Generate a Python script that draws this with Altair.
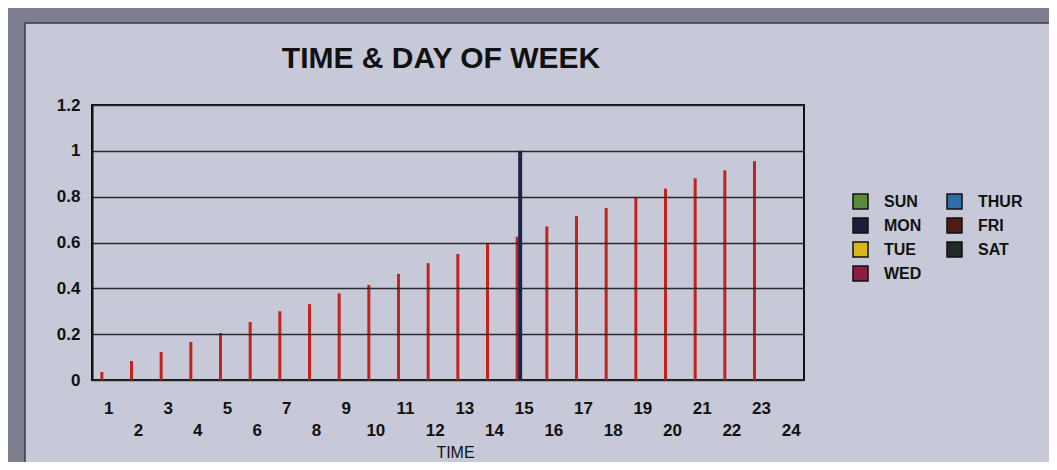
import altair as alt
import pandas as pd

# ---- data ----
hours = [str(h) for h in range(1, 25)]
red_hours = [str(h) for h in range(1, 24)]
red_values = [0.035, 0.083, 0.122, 0.166, 0.205, 0.253, 0.30, 0.331, 0.378, 0.415,
              0.463, 0.51, 0.55, 0.594, 0.625, 0.67, 0.715, 0.75, 0.795, 0.835,
              0.88, 0.915, 0.955]
navy_hours = ["15"]
navy_values = [1.0]
days = ["SUN", "MON", "TUE", "WED", "THUR", "FRI", "SAT"]
day_colors = ["#5c8a3c", "#1b1f3b", "#d8b51c", "#8c1e40", "#2f6ea6", "#4e1c17", "#1f2a25"]
y_ticks = [0, 0.2, 0.4, 0.6, 0.8, 1.0, 1.2]

W, H = 712, 275
PAD = {"left": 84, "top": 97, "right": 245, "bottom": 82}
BG = "#c7c9d8"
FRAME = "#7e7f8f"

red_df = pd.DataFrame({"hour": red_hours, "value": red_values})
navy_df = pd.DataFrame({"hour": navy_hours, "value": navy_values})
legend_df = pd.DataFrame({"day": days})

x_scale = alt.Scale(domain=hours, paddingInner=0, paddingOuter=0)
y_scale = alt.Scale(domain=[0, 1.2], nice=False)

x_axis = alt.Axis(
    title="TIME", titleFont="Liberation Sans", titleFontSize=16, titleFontWeight="normal",
    titleColor="#111", titleX=363, titleY=72, titleBaseline="middle",
    labelExpr="toNumber(datum.value) % 2 == 0 ? ['', datum.label] : datum.label",
    labelFont="Liberation Sans", labelFontSize=17, labelFontWeight="bold", labelColor="#111",
    labelLineHeight=22, labelPadding=20, labelOffset=2, labelAngle=0,
    ticks=False, domain=False, grid=False, zindex=1,
)
y_axis = alt.Axis(
    title=None, values=y_ticks, format=".1~f",
    labelFont="Liberation Sans", labelFontSize=17, labelFontWeight="bold", labelColor="#111",
    labelPadding=12, ticks=False, domain=True, domainColor="#111", domainWidth=2,
    grid=True, gridColor="#2a2a2a", gridWidth=1.6, zindex=1,
)

frame_top = alt.Chart(alt.Data(values=[{}])).mark_rect(fill=FRAME).encode(
    x=alt.value(-84), x2=alt.value(1000), y=alt.value(-97), y2=alt.value(-82)
)
frame_left = alt.Chart(alt.Data(values=[{}])).mark_rect(fill=FRAME).encode(
    x=alt.value(-84), x2=alt.value(-67), y=alt.value(-97), y2=alt.value(400)
)
panel_edge = alt.Chart(alt.Data(values=[{}])).mark_rect(
    fill=None, stroke="#3b3c48", strokeWidth=1.5
).encode(
    x=alt.value(-67), x2=alt.value(1000), y=alt.value(-82), y2=alt.value(400)
)

title = alt.Chart(alt.Data(values=[{"t": "TIME & DAY OF WEEK"}])).mark_text(
    font="Liberation Sans", fontSize=30, fontWeight="bold",
    color="#111", align="center", baseline="middle"
).encode(text="t:N", x=alt.value(349), y=alt.value(-46))

red_bars = alt.Chart(red_df).mark_bar(color="#c4221d", size=3, xOffset=-5).encode(
    x=alt.X("hour:N", scale=x_scale, axis=x_axis, sort=hours),
    y=alt.Y("value:Q", scale=y_scale, axis=y_axis),
)

navy_bars = alt.Chart(navy_df).mark_bar(color="#1b2348", size=4, xOffset=-2).encode(
    x=alt.X("hour:N", scale=x_scale, sort=hours),
    y=alt.Y("value:Q", scale=y_scale),
)

legend_layer = alt.Chart(legend_df).mark_point(
    shape="square", filled=True, opacity=0, size=0
).encode(
    x=alt.value(0), y=alt.value(0),
    color=alt.Color(
        "day:N",
        scale=alt.Scale(domain=days, range=day_colors),
        legend=alt.Legend(
            title=None, orient="none", legendX=760, legendY=88, columns=2,
            columnPadding=22, rowPadding=3, padding=0,
            symbolType="square", symbolSize=225, symbolOpacity=1,
            symbolStrokeColor="#111", symbolStrokeWidth=1.5,
            labelFont="Liberation Sans", labelFontSize=16, labelFontWeight="bold",
            labelColor="#111", labelOffset=15,
        ),
    ),
)

chart = alt.layer(frame_top, frame_left, panel_edge, title, red_bars, navy_bars,
                  legend_layer).properties(
    width=W, height=H,
    background=BG,
    padding=PAD,
    autosize=alt.AutoSizeParams(type="none"),
).configure_view(
    stroke="#111", strokeWidth=2, fill=None
)

chart.save("out.html", embed_options={"renderer": "svg", "actions": False})
